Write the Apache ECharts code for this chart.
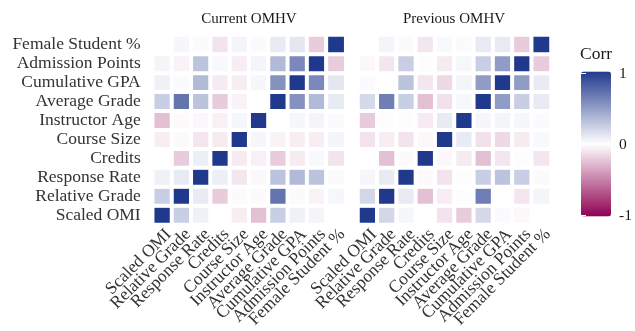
<!DOCTYPE html>
<html>
<head>
<meta charset="utf-8">
<script src="https://cdn.jsdelivr.net/npm/echarts@6/dist/echarts.min.js"></script>
<style>html,body{margin:0;padding:0;background:#fff}#c{width:635px;height:331px}</style>
</head>
<body>
<div id="c"></div>
<script>
// Variables (bottom-to-top on y, left-to-right on x)
var variables = ['Scaled OMI','Relative Grade','Response Rate','Credits','Course Size','Instructor Age','Average Grade','Cumulative GPA','Admission Points','Female Student %'];
var panelTitles = ['Current OMHV','Previous OMHV'];
var legendTicks = [-1, 0, 1];

// correlation matrices, row i = variables[i], column j = variables[j]
var currentOMHV = [
  [ 1.00, 0.25, 0.07, 0.00,-0.07,-0.25, 0.25, 0.07, 0.05, 0.00],
  [ 0.25, 1.00, 0.10,-0.20,-0.02,-0.02, 0.70, 0.02,-0.05, 0.04],
  [ 0.07, 0.10, 1.00, 0.08,-0.10,-0.03, 0.30, 0.35, 0.30, 0.02],
  [ 0.00,-0.20, 0.08, 1.00,-0.08,-0.06,-0.20,-0.08, 0.03,-0.11],
  [-0.07,-0.02,-0.10,-0.08, 1.00, 0.04,-0.05,-0.07,-0.07, 0.05],
  [-0.25,-0.02,-0.03,-0.06, 0.04, 1.00, 0.00, 0.04, 0.05, 0.02],
  [ 0.25, 0.70, 0.30,-0.20,-0.05, 0.00, 1.00, 0.55, 0.35, 0.10],
  [ 0.07, 0.02, 0.35,-0.08,-0.07, 0.04, 0.55, 1.00, 0.60, 0.12],
  [ 0.05,-0.05, 0.30, 0.03,-0.07, 0.05, 0.35, 0.60, 1.00,-0.20],
  [ 0.00, 0.04, 0.02,-0.11, 0.05, 0.02, 0.10, 0.12,-0.20, 1.00]
];
var previousOMHV = [
  [ 1.00, 0.20, 0.04, 0.00,-0.11,-0.20, 0.19, 0.02,-0.03, 0.00],
  [ 0.20, 1.00, 0.10,-0.25,-0.07, 0.01, 0.65, 0.00,-0.10, 0.05],
  [ 0.04, 0.10, 1.00,-0.02,-0.11, 0.01, 0.25, 0.30, 0.25, 0.02],
  [ 0.00,-0.25,-0.02, 1.00,-0.03,-0.08,-0.25,-0.10,-0.01,-0.10],
  [-0.11,-0.07,-0.11,-0.03, 1.00, 0.10,-0.12,-0.15,-0.08, 0.03],
  [-0.20, 0.01, 0.01,-0.08, 0.10, 1.00, 0.04, 0.05, 0.04, 0.02],
  [ 0.19, 0.65, 0.25,-0.25,-0.12, 0.04, 1.00, 0.50, 0.25, 0.10],
  [ 0.02, 0.00, 0.30,-0.10,-0.15, 0.05, 0.50, 1.00, 0.50, 0.10],
  [-0.03,-0.10, 0.25,-0.01,-0.08, 0.04, 0.25, 0.50, 1.00,-0.20],
  [ 0.00, 0.05, 0.02,-0.10, 0.03, 0.02, 0.10, 0.10,-0.20, 1.00]
];

function toCells(m){
  var out = [];
  for (var i = 0; i < m.length; i++)
    for (var j = 0; j < m[i].length; j++)
      out.push([j, i, m[i][j]]);
  return out;
}

var FONT = "'Liberation Serif','Times New Roman',serif";
var TXT = '#333';

function catAxis(gi, isX, showLabel){
  var a = {
    type: 'category', gridIndex: gi, data: variables,
    axisLine: {show: false}, axisTick: {show: false}, splitLine: {show: false},
    axisLabel: {show: showLabel, fontFamily: FONT, fontSize: 17.5, color: TXT, interval: 0}
  };
  if (isX) { a.axisLabel.rotate = 45; a.axisLabel.margin = 1; a.axisLabel.verticalAlign = 'top'; }
  else { a.axisLabel.margin = 12; }
  return a;
}

var chart = echarts.init(document.getElementById('c'), null, {renderer: 'canvas'});
chart.setOption({
  animation: false,
  backgroundColor: '#fff',
  title: [
    {text: panelTitles[0], left: 249, top: 12, textAlign: 'center', padding: 0,
     textStyle: {fontFamily: FONT, fontSize: 15, fontWeight: 'normal', color: '#1a1a1a'}},
    {text: panelTitles[1], left: 454, top: 12, textAlign: 'center', padding: 0,
     textStyle: {fontFamily: FONT, fontSize: 15, fontWeight: 'normal', color: '#1a1a1a'}},
    {text: 'Corr', left: 580, top: 45, padding: 0,
     textStyle: {fontFamily: FONT, fontSize: 17.5, fontWeight: 'normal', color: '#1a1a1a'}}
  ],
  grid: [
    {left: 152.7, top: 35, width: 193, height: 193},
    {left: 358, top: 35, width: 193, height: 193},
    {left: 581, top: 73.5, width: 30, height: 142}
  ],
  xAxis: [
    catAxis(0, true, true),
    catAxis(1, true, true),
    {type: 'value', gridIndex: 2, show: false, min: 0, max: 1}
  ],
  yAxis: [
    catAxis(0, false, true),
    catAxis(1, false, false),
    {type: 'value', gridIndex: 2, min: -1, max: 1, interval: 1, position: 'right', z: 10,
     axisLine: {show: false}, splitLine: {show: false},
     axisTick: {show: true, inside: true, length: 5, lineStyle: {color: '#fff', width: 1}},
     axisLabel: {fontFamily: FONT, fontSize: 15.5, color: '#1a1a1a', margin: 8}},
    {type: 'value', gridIndex: 2, min: -1, max: 1, interval: 1, position: 'left', z: 10,
     axisLine: {show: false}, splitLine: {show: false},
     axisTick: {show: true, inside: true, length: 5, lineStyle: {color: '#fff', width: 1}},
     axisLabel: {show: false}}
  ],
  visualMap: {
    type: 'continuous', min: -1, max: 1, seriesIndex: [0, 1],
    left: 581, top: 71.5, itemWidth: 30, itemHeight: 145, padding: 0,
    text: null, showLabel: false, calculable: false, hoverLink: false, orient: 'vertical',
    inRange: {color: ['#8E0152', '#FFFFFF', '#21398D']}
  },
  series: [
    {type: 'heatmap', xAxisIndex: 0, yAxisIndex: 0, data: toCells(currentOMHV),
     itemStyle: {borderColor: '#fff', borderWidth: 4}, emphasis: {disabled: true}},
    {type: 'heatmap', xAxisIndex: 1, yAxisIndex: 1, data: toCells(previousOMHV),
     itemStyle: {borderColor: '#fff', borderWidth: 4}, emphasis: {disabled: true}}
  ]
});
</script>
</body>
</html>
